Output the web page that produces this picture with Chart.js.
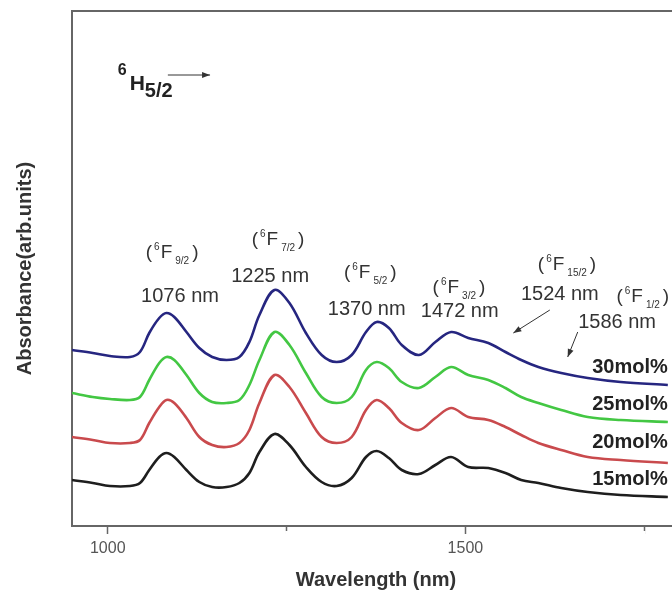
<!DOCTYPE html>
<html>
<head>
<meta charset="utf-8">
<script src="https://cdn.jsdelivr.net/npm/chart.js@4.4.1/dist/chart.umd.min.js"></script>
<style>
  html, body { margin:0; padding:0; background:#fff; overflow:hidden; }
  #wrap { width:672px; height:591px; overflow:hidden; }
</style>
</head>
<body>
<div id="wrap"><canvas id="chart" width="680" height="591"></canvas></div>
<script>
// wavelength grid (nm)
const wavelengths = [950,979,1003,1031,1045,1058,1072,1082,1093,1110,1128,1146,1166,1184,1198,1212,1233,1254,1277,1299,1320,1341,1361,1376,1393,1411,1435,1458,1480,1504,1532,1556,1578,1602,1634,1671,1717,1783];
// absorbance, arbitrary units (curves are offset from each other)
const mol30 = [176,173,170,169,174,193,208,213,209,194,178,169,166,169,184,211,236,223,193,171,164,171,194,204,198,181,171,184,194,188,183,174,166,159,153,148,144,141];
const mol25 = [133,129,127,126,129,146,163,169,166,151,133,124,123,126,141,166,194,181,153,129,123,129,156,164,158,144,138,149,159,151,146,138,129,123,116,109,106,104];
const mol20 = [89,86,83,83,86,103,119,126,123,108,89,81,79,83,96,123,151,139,113,89,83,89,116,126,118,103,96,108,118,109,106,99,91,83,76,69,66,63];
const mol15 = [46,43,40,40,43,56,69,73,69,56,44,39,39,43,53,74,92,81,59,44,40,48,69,75,68,56,52,61,69,59,58,53,46,43,38,34,31,29];
const seriesNames = ['30mol%','25mol%','20mol%','15mol%'];
const xTicks = [1000,1250,1500,1750];
const xTickLabels = [1000,1500];

const FONT = "'Liberation Sans', Arial, sans-serif";
const colors = ['#262680','#43c743','#c94a4d','#1e1e1e'];

// annotation placement in data units (nm, absorbance)
const peakNotes = [
  {nm:1101, v:224, text:'1076 nm'},
  {nm:1227, v:244, text:'1225 nm'},
  {nm:1362, v:211, text:'1370 nm'},
  {nm:1492, v:209, text:'1472 nm'},
  {nm:1632, v:226, text:'1524 nm'},
  {nm:1712, v:198, text:'1586 nm'}
];
const termNotes = [
  {nm:1090, v:268, sub:'9/2'},
  {nm:1238, v:281, sub:'7/2'},
  {nm:1367, v:248, sub:'5/2'},
  {nm:1491, v:233, sub:'3/2'},
  {nm:1642, v:256, sub:'15/2'},
  {nm:1748, v:224, sub:'1/2'}
];
const molNotes = [
  {nm:1730, v:153}, {nm:1730, v:116}, {nm:1730, v:78}, {nm:1730, v:41}
];
const arrowNotes = [
  {from:[1618,216], to:[1567,193]},
  {from:[1657,194], to:[1643,169]},
  {from:[1084,451], to:[1143,451]}
];

function drawArrow(ctx, x1, y1, x2, y2){
  const a = Math.atan2(y2-y1, x2-x1);
  ctx.strokeStyle = '#333'; ctx.fillStyle = '#333'; ctx.lineWidth = 1;
  ctx.beginPath(); ctx.moveTo(x1,y1); ctx.lineTo(x2,y2); ctx.stroke();
  ctx.beginPath();
  ctx.moveTo(x2,y2);
  ctx.lineTo(x2 - 8*Math.cos(a) + 3*Math.sin(a), y2 - 8*Math.sin(a) - 3*Math.cos(a));
  ctx.lineTo(x2 - 8*Math.cos(a) - 3*Math.sin(a), y2 - 8*Math.sin(a) + 3*Math.cos(a));
  ctx.closePath(); ctx.fill();
}

function drawTerm(ctx, cx, base, sub){
  const big = '19px ' + FONT, small = '10px ' + FONT;
  ctx.font = big;
  const wp = ctx.measureText('(').width, wF = ctx.measureText('F').width;
  ctx.font = small;
  const w6 = ctx.measureText('6').width, ws = ctx.measureText(sub).width;
  const total = wp + 2 + w6 + 1 + wF + 3 + ws + 3 + wp;
  let x = cx - total/2;
  ctx.font = big; ctx.fillText('(', x, base); x += wp + 2;
  ctx.font = small; ctx.fillText('6', x, base - 8); x += w6 + 1;
  ctx.font = big; ctx.fillText('F', x, base); x += wF + 3;
  ctx.font = small; ctx.fillText(sub, x, base + 6); x += ws + 3;
  ctx.font = big; ctx.fillText(')', x, base);
}

const notesPlugin = {
  id: 'notes',
  afterDraw(chart){
    const {ctx, chartArea, scales:{x, y}} = chart;
    ctx.save();
    // frame top
    ctx.strokeStyle = '#666'; ctx.lineWidth = 2;
    ctx.beginPath(); ctx.moveTo(chartArea.left, chartArea.top); ctx.lineTo(chartArea.right, chartArea.top); ctx.stroke();

    ctx.textBaseline = 'alphabetic';
    ctx.fillStyle = '#333';
    ctx.textAlign = 'center';
    ctx.font = '20px ' + FONT;
    peakNotes.forEach(n => ctx.fillText(n.text, x.getPixelForValue(n.nm), y.getPixelForValue(n.v)));

    ctx.textAlign = 'left';
    termNotes.forEach(n => drawTerm(ctx, x.getPixelForValue(n.nm), y.getPixelForValue(n.v), n.sub));

    ctx.textAlign = 'center';
    ctx.fillStyle = '#222';
    ctx.font = 'bold 20px ' + FONT;
    molNotes.forEach((n, i) => ctx.fillText(seriesNames[i], x.getPixelForValue(n.nm), y.getPixelForValue(n.v)));

    // 6H5/2 ground state
    ctx.textAlign = 'left';
    let hx = x.getPixelForValue(1014);
    const hb = y.getPixelForValue(436);
    ctx.font = 'bold 16px ' + FONT; ctx.fillText('6', hx, hb - 15); hx += ctx.measureText('6').width + 3;
    ctx.font = 'bold 21px ' + FONT; ctx.fillText('H', hx, hb); hx += ctx.measureText('H').width;
    ctx.font = 'bold 20px ' + FONT; ctx.fillText('5/2', hx, hb + 7);

    arrowNotes.forEach(a => drawArrow(ctx,
      x.getPixelForValue(a.from[0]), y.getPixelForValue(a.from[1]),
      x.getPixelForValue(a.to[0]), y.getPixelForValue(a.to[1])));

    // shorter minor ticks at unlabeled positions
    ctx.strokeStyle = '#fff'; ctx.lineWidth = 3;
    xTicks.filter(v => !xTickLabels.includes(v)).forEach(v => {
      const px = x.getPixelForValue(v);
      ctx.beginPath(); ctx.moveTo(px, chartArea.bottom + 5); ctx.lineTo(px, chartArea.bottom + 9); ctx.stroke();
    });
    ctx.restore();
  }
};

const series = [mol30, mol25, mol20, mol15];
const datasets = series.map((vals, i) => ({
  label: seriesNames[i],
  data: wavelengths.map((w, j) => ({x: w, y: vals[j]})),
  borderColor: colors[i],
  borderWidth: 2.6,
  pointRadius: 0,
  tension: 0.35,
  fill: false
}));

new Chart(document.getElementById('chart'), {
  type: 'line',
  data: { datasets },
  options: {
    responsive: false,
    animation: false,
    layout: { padding: { top: 11, right: 0, left: 0, bottom: 0 } },
    plugins: { legend: { display: false }, tooltip: { enabled: false } },
    scales: {
      x: {
        type: 'linear', min: 950, max: 1800,
        afterBuildTicks: s => { s.ticks = xTicks.map(v => ({value: v})); },
        afterFit: s => { s.height = 65; },
        grid: { drawOnChartArea: false, drawTicks: true, tickLength: 8, color: '#666', tickWidth: 1.5 },
        border: { display: true, color: '#666', width: 2 },
        ticks: {
          padding: 5, color: '#555', font: { family: FONT, size: 16 },
          callback: v => xTickLabels.includes(v) ? String(v) : ''
        },
        title: { display: true, text: 'Wavelength (nm)', color: '#333',
          font: { family: FONT, size: 20, weight: 'bold', lineHeight: 1.1 }, padding: { top: 0, bottom: 0 } }
      },
      y: {
        min: 0, max: 515,
        afterFit: s => { s.width = 72; },
        grid: { drawOnChartArea: false, drawTicks: false },
        border: { display: true, color: '#666', width: 2 },
        ticks: { display: false },
        title: { display: true, text: 'Absorbance(arb.units)', color: '#333',
          font: { family: FONT, size: 20, weight: 'bold' }, padding: { top: 13, bottom: 0 } }
      }
    }
  },
  plugins: [notesPlugin]
});
</script>
</body>
</html>
